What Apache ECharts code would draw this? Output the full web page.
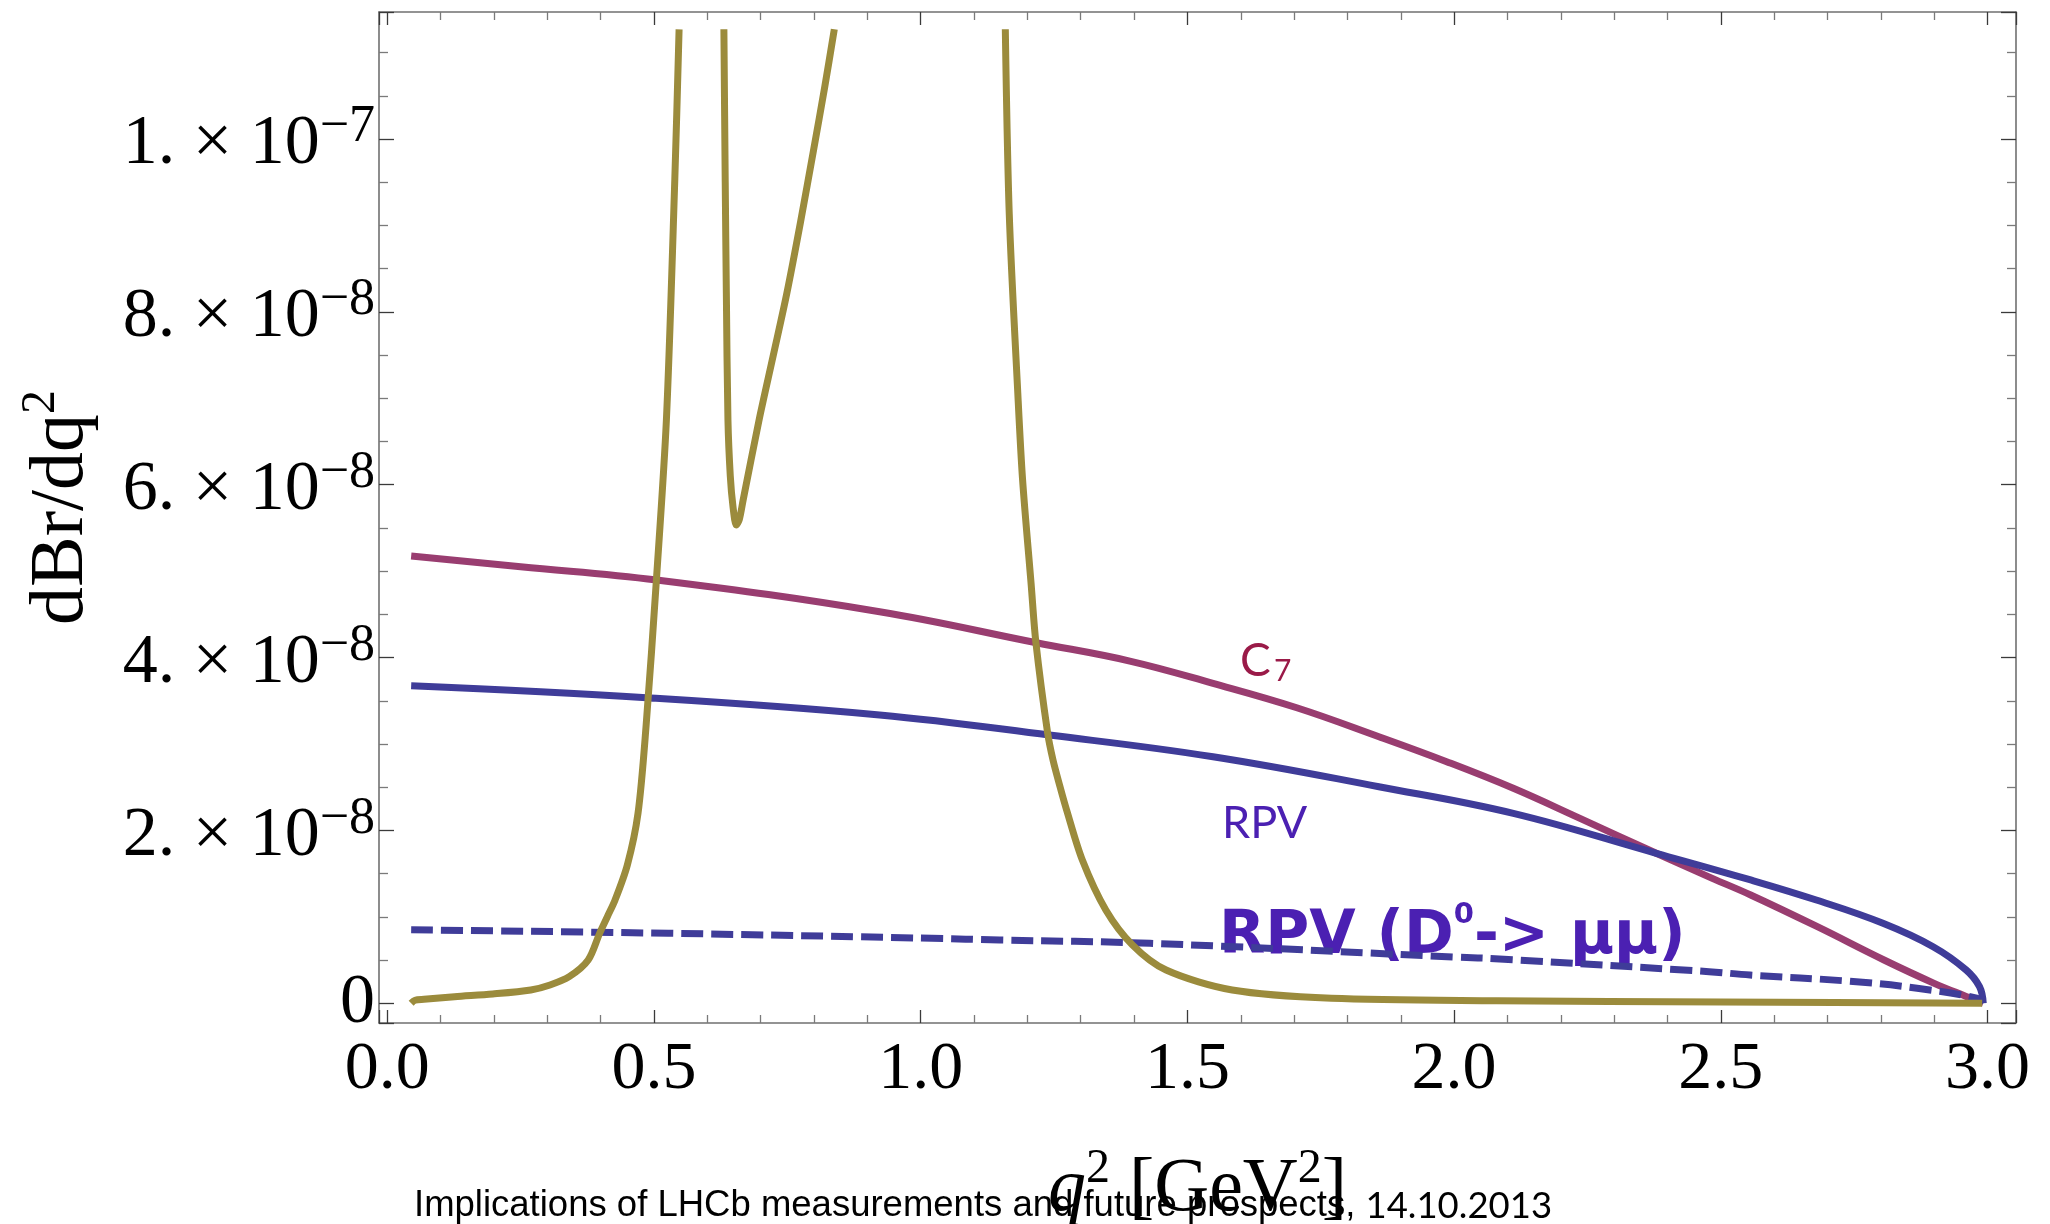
<!DOCTYPE html>
<html><head><meta charset="utf-8">
<script src="https://cdn.jsdelivr.net/npm/echarts@6/dist/echarts.min.js"></script>
<style>html,body{margin:0;padding:0;background:#fff}#c{width:2050px;height:1224px}</style>
</head><body><div id="c"></div>
<script>
// ---- data (x = q^2 in GeV^2, y = dBr/dq^2) ----
const c7Data = [
  [0.0447,5.175e-8],[0.25,5.052e-8],[0.505,4.898e-8],[0.923,4.531e-8],[1.217,4.172e-8],
  [1.392,3.96e-8],[1.548,3.702e-8],[1.705,3.42e-8],[1.859,3.085e-8],[1.986,2.796e-8],
  [2.111,2.488e-8],[2.236,2.14e-8],[2.379,1.736e-8],[2.484,1.446e-8],[2.556,1.253e-8],
  [2.681,0.886e-8],[2.806,0.501e-8],[2.900,0.231e-8],[2.961,0.077e-8],[2.992,0]
];
const rpvData = [
  [0.0447,3.675e-8],[0.486,3.536e-8],[0.923,3.336e-8],[1.241,3.104e-8],[1.548,2.853e-8],
  [1.859,2.506e-8],[2.111,2.198e-8],[2.379,1.736e-8],[2.556,1.427e-8],[2.679,1.195e-8],
  [2.804,0.926e-8],[2.898,0.655e-8],[2.960,0.385e-8],[2.985,0.192e-8],[2.992,0]
];
const rpvD0Data = [
  [0.0447,0.850e-8],[0.527,0.810e-8],[1.021,0.752e-8],[1.148,0.732e-8],[1.430,0.694e-8],
  [2.004,0.535e-8],[2.085,0.513e-8],[2.478,0.366e-8],[2.555,0.327e-8],[2.742,0.255e-8],
  [2.868,0.174e-8],[2.980,0.058e-8],[2.992,0]
];
const smLow = [
  [0.0447,0],[0.052,0.035e-8],[0.0687,0.046e-8],[0.126,0.077e-8],[0.1976,0.108e-8],
  [0.269,0.154e-8],[0.305,0.212e-8],[0.341,0.308e-8],[0.3766,0.501e-8],[0.398,0.81e-8],
  [0.4125,1.002e-8],[0.427,1.195e-8],[0.45,1.6e-8],[0.47,2.2e-8],[0.485,3.2e-8],
  [0.5045,4.9e-8],[0.5232,6.75e-8],[0.539,9.54e-8],[0.547,11.27e-8]
];
const smMid = [
  [0.631,11.27e-8],[0.6335,9.5e-8],[0.6356,8.215e-8],[0.6386,6.75e-8],[0.643,6.1e-8],
  [0.648,5.75e-8],[0.6543,5.534e-8],[0.660,5.6e-8],[0.667,5.82e-8],[0.697,6.75e-8],
  [0.723,7.48e-8],[0.749,8.215e-8],[0.775,9.05e-8],[0.799,9.87e-8],[0.820,10.6e-8],[0.838,11.27e-8]
];
const smHigh = [
  [1.1586,11.27e-8],[1.166,9.13e-8],[1.182,7.06e-8],[1.191,6.055e-8],[1.207,4.85e-8],
  [1.216,4.17e-8],[1.238,3.124e-8],[1.248,2.815e-8],[1.261,2.51e-8],[1.2735,2.237e-8],
  [1.303,1.658e-8],[1.347,1.08e-8],[1.397,0.675e-8],[1.46,0.385e-8],[1.584,0.154e-8],
  [1.77,0.058e-8],[2.08,0.03e-8],[2.5,0.015e-8],[2.99,0]
];
const XMIN = -0.0156, XMAX = 3.0534, YMIN = -0.228e-8, YMAX = 11.47e-8;
const xMajor = 0.5, yMajor = 2e-8;

const FRAME = '#707070', MAJ = '#3a3a3a', MIN = '#7a7a7a';
const serif = 'Liberation Serif';

function isMult(v, step){ const r = v/step; return Math.abs(r-Math.round(r)) < 1e-6; }
function xFmt(v){ return isMult(v, xMajor) ? (Math.round(v*10)/10).toFixed(1) : ''; }
function yFmt(v){
  if (!isMult(v, yMajor)) return '';
  if (Math.abs(v) < 1e-15) return '{z|0}';
  const e = Math.floor(Math.log10(Math.abs(v)) + 1e-9);
  const m = Math.round(v/Math.pow(10,e));
  return '{m|' + m + '. \u00d7 10}{e|\u2212' + (-e) + '}';
}

function xAxisCfg(pos, labels){
  return {
    type:'value', position:pos, min:XMIN, max:XMAX, splitNumber:6,
    minInterval:xMajor, maxInterval:xMajor,
    axisLine:{show:true, onZero:false, lineStyle:{color:FRAME, width:1.6}},
    axisTick:{show:true, inside:true, length:13, lineStyle:{color:MAJ, width:1.3}},
    minorTick:{show:true, splitNumber:5, length:8, lineStyle:{color:MIN, width:1.3}},
    splitLine:{show:false}, minorSplitLine:{show:false},
    axisLabel:{show:labels, formatter:xFmt, fontFamily:serif, fontSize:68, color:'#000', margin:13},
  };
}
function yAxisCfg(pos, labels){
  return {
    type:'value', position:pos, min:YMIN, max:YMAX, splitNumber:6,
    minInterval:yMajor, maxInterval:yMajor,
    axisLine:{show:true, onZero:false, lineStyle:{color:FRAME, width:1.6}},
    axisTick:{show:true, inside:true, length:15, lineStyle:{color:MAJ, width:1.3}},
    minorTick:{show:true, splitNumber:4, length:9, lineStyle:{color:MIN, width:1.3}},
    splitLine:{show:false}, minorSplitLine:{show:false},
    axisLabel:{show:labels, formatter:yFmt, margin:4, align:'right', padding:[12,0,0,0],
      rich:{ m:{fontFamily:serif, fontSize:70, lineHeight:87, color:'#000'},
             e:{fontFamily:serif, fontSize:52, lineHeight:40, verticalAlign:'top', color:'#000'},
             z:{fontFamily:serif, fontSize:70, padding:[0,0,12,0], color:'#000'} } },
  };
}

const xb = xAxisCfg('bottom', true);
xb.name = '{q|q}{s|2}{t| [GeV}{s|2}{t|]}';
xb.nameLocation = 'middle';
xb.nameGap = 122;
xb.nameTextStyle = { rich:{
  q:{fontFamily:serif, fontStyle:'italic', fontSize:76, lineHeight:91, color:'#000'},
  t:{fontFamily:serif, fontSize:76, lineHeight:91, color:'#000'},
  s:{fontFamily:serif, fontSize:48, lineHeight:54, verticalAlign:'top', color:'#000'} } };

const yl = yAxisCfg('left', true);
yl.name = '{t|dBr/dq}{s|2}';
yl.nameLocation = 'middle';
yl.nameGap = 272;
yl.nameTextStyle = { padding:[0,0,0,20], rich:{
  t:{fontFamily:serif, fontSize:76, lineHeight:90, color:'#000'},
  s:{fontFamily:serif, fontSize:48, lineHeight:54, verticalAlign:'top', color:'#000'} } };

function lineSeries(data, color, dashed, smooth){
  return { type:'line', data:data, xAxisIndex:0, yAxisIndex:0, showSymbol:false, symbol:'none',
    smooth:smooth, silent:true, clip:true,
    lineStyle:{color:color, width:7, type: dashed ? [22,8] : 'solid', cap:'butt', join:'round'} };
}
const C7C = '#993d70', RPVC = '#3f3c99', SMC = '#9b8b3c';

const chart = echarts.init(document.getElementById('c'), null, {renderer:'canvas'});
chart.setOption({
  animation:false,
  backgroundColor:'#fff',
  grid:{left:379, right:34, top:12, bottom:201, containLabel:false, outerBoundsMode:'none'},
  xAxis:[xb, xAxisCfg('top', false)],
  yAxis:[yl, yAxisCfg('right', false)],
  series:[
    lineSeries(c7Data, C7C, false, 0.4),
    lineSeries(rpvData, RPVC, false, 0.4),
    lineSeries(rpvD0Data, RPVC, true, 0.4),
    lineSeries(smLow, SMC, false, 0.3),
    lineSeries(smMid, SMC, false, 0.3),
    lineSeries(smHigh, SMC, false, 0.3)
  ],
  graphic:[
    {type:'text', z:1, x:1240, y:661, style:{text:'C', font:'46px Lato', fill:'#9a1a48', textVerticalAlign:'middle', verticalAlign:'middle'}},
    {type:'text', z:1, x:1274, y:671, style:{text:'7', font:'30px Lato', fill:'#9a1a48', textVerticalAlign:'middle', verticalAlign:'middle'}},
    {type:'text', z:1, x:1222, y:823, style:{text:'RPV', font:'45px Lato', fill:'#4b20b2', textVerticalAlign:'middle', verticalAlign:'middle'}},
    {type:'text', z:1, x:1219, y:937, style:{text:'{a|RPV (D}{b|0}{a|-> \u03bc\u03bc)}', textVerticalAlign:'middle', verticalAlign:'middle',
      rich:{a:{fontFamily:'DejaVu Sans', fontWeight:'bold', fontSize:60, lineHeight:72, fill:'#4b20b2', color:'#4b20b2'},
            b:{fontFamily:'DejaVu Sans', fontWeight:'bold', fontSize:29, lineHeight:54, verticalAlign:'top', fill:'#4b20b2', color:'#4b20b2'}}}},
    {type:'text', z:10, x:414, y:1206, style:{text:'{a|Implications of LHCb measurements and future prospects, }{b|14.10.2013}', textVerticalAlign:'middle', verticalAlign:'middle',
      rich:{a:{fontFamily:'Liberation Sans', fontSize:36.5, fill:'#000', color:'#000'},
            b:{fontFamily:'Lato', fontSize:36.5, fill:'#000', color:'#000'}}}}
  ]
});
</script></body></html>
